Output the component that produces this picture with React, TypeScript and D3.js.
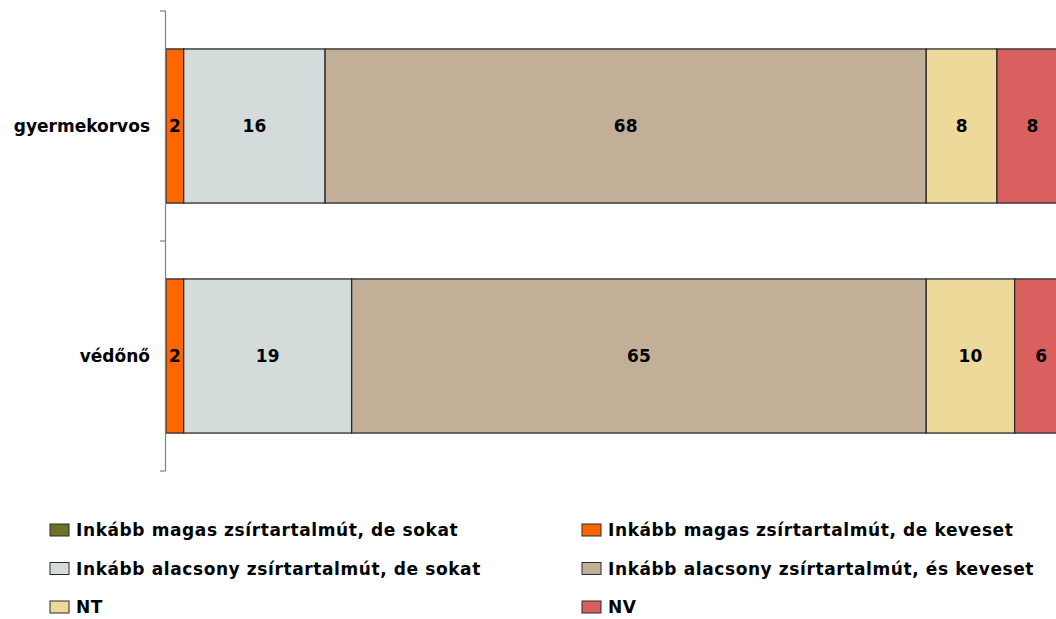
import React from "react";
import * as d3 from "d3";

const categories = ["gyermekorvos", "védőnő"];
const seriesNames = [
  "Inkább magas zsírtartalmút, de sokat",
  "Inkább magas zsírtartalmút, de keveset",
  "Inkább alacsony zsírtartalmút, de sokat",
  "Inkább alacsony zsírtartalmút, és keveset",
  "NT",
  "NV",
];
const seriesColors = ["#6E7029", "#FF6600", "#D3DCDB", "#C2AF98", "#EDDA9B", "#DA5F5F"];
const valuesGyermekorvos = [0, 2, 16, 68, 8, 8];
const valuesVedono = [0, 2, 19, 65, 10, 6];
const values = [valuesGyermekorvos, valuesVedono];

const W = 1056;
const H = 619;
const FONT = "'DejaVu Sans', Verdana, sans-serif";

export default function App() {
  const x = d3.scaleLinear().domain([0, 100]).range([166, 1050]);
  const y = d3.scaleBand().domain(categories).range([11, 471]).paddingInner(0.33).paddingOuter(0.165);
  const step = y.step();
  const boundaries = d3.range(categories.length + 1).map((i) => 11 + i * step);

  const stacks = values.map((vals) => {
    let acc = 0;
    return vals.map((v) => {
      const s = acc;
      acc += v;
      return [s, acc];
    });
  });

  return (
    <svg width={W} height={H} style={{ position: "absolute", left: 0, top: 0 }} fontFamily={FONT}>
      <rect width={W} height={H} fill="#fff" />
      {categories.map((c, ci) => (
        <g key={c}>
          {stacks[ci].map(([s, e], si) =>
            e - s > 0 ? (
              <rect
                key={si}
                x={x(s)}
                y={y(c)}
                width={x(e) - x(s)}
                height={y.bandwidth()}
                fill={seriesColors[si]}
                stroke="#2b2b2b"
                strokeWidth={1.3}
              />
            ) : null
          )}
          {stacks[ci].map(([s, e], si) =>
            e - s > 0 ? (
              <text
                key={"t" + si}
                x={(x(s) + x(e)) / 2}
                y={(y(c) as number) + y.bandwidth() / 2}
                textAnchor="middle"
                dominantBaseline="central"
                fontSize={17}
                fontWeight="bold"
                fill="#000"
              >
                {values[ci][si]}
              </text>
            ) : null
          )}
          <text
            x={150}
            y={(y(c) as number) + y.bandwidth() / 2}
            textAnchor="end"
            dominantBaseline="central"
            fontSize={17}
            fontWeight="bold"
            fill="#000"
          >
            {c}
          </text>
        </g>
      ))}
      <line x1={165.5} x2={165.5} y1={boundaries[0]} y2={boundaries[boundaries.length - 1]} stroke="#808080" strokeWidth={1.2} />
      {boundaries.map((b, i) => (
        <line key={i} x1={160} x2={165.5} y1={b} y2={b} stroke="#808080" strokeWidth={1.2} />
      ))}
      {seriesNames.map((n, i) => {
        const col = i % 2;
        const row = Math.floor(i / 2);
        const lx = col === 0 ? 50 : 582;
        const ly = 530 + row * 38.5;
        return (
          <g key={n}>
            <rect x={lx} y={ly - 6} width={19} height={12} fill={seriesColors[i]} stroke="#2b2b2b" strokeWidth={1} />
            <text x={lx + 26} y={ly} dominantBaseline="central" fontSize={17} letterSpacing={0.6} fontWeight="bold" fill="#000">
              {n}
            </text>
          </g>
        );
      })}
    </svg>
  );
}
